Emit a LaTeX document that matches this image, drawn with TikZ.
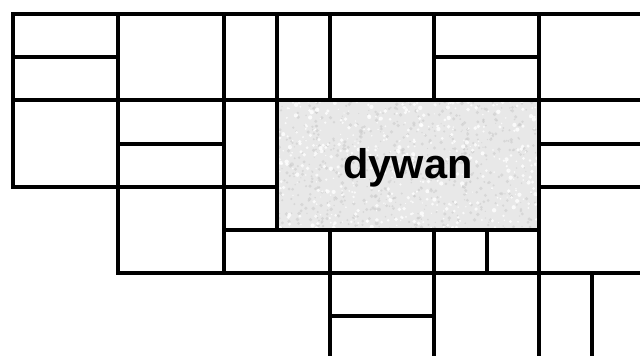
\documentclass[tikz,border=0pt]{standalone}
\usepackage{fontspec}
\setmainfont{Liberation Sans}
\begin{document}
\begin{tikzpicture}[x=1pt,y=-1pt,
  wall/.style={line width=3.8pt,line cap=rect,black},
  carpet/.style={fill=black!9}]
\useasboundingbox (0,0) rectangle (640,356);
\fill[white] (0,0) rectangle (640,356);
% carpet
\fill[carpet] (277,100) rectangle (539,230);
\pgfmathsetseed{7}
\begin{scope}
\clip (277,100) rectangle (539,230);
\foreach \i in {1,...,700}{
  \pgfmathsetmacro{\px}{277+262*rnd}
  \pgfmathsetmacro{\py}{100+130*rnd}
  \pgfmathsetmacro{\pr}{0.6+1.4*rnd}
  \fill[black!20,opacity=0.6] (\px,\py) circle[radius=\pr pt];
}
\foreach \i in {1,...,500}{
  \pgfmathsetmacro{\px}{277+262*rnd}
  \pgfmathsetmacro{\py}{100+130*rnd}
  \pgfmathsetmacro{\pr}{0.6+1.6*rnd}
  \fill[white,opacity=0.8] (\px,\py) circle[radius=\pr pt];
}
\end{scope}
\node[anchor=base,inner sep=0pt,font=\fontsize{41.5}{48}\selectfont\bfseries] (dywan) at (408,178) {dywan};
% horizontal walls
\draw[wall] (13,14) -- (640,14);
\draw[wall] (13,57) -- (118,57);
\draw[wall] (434,57) -- (539,57);
\draw[wall] (13,100) -- (640,100);
\draw[wall] (118,144) -- (224,144);
\draw[wall] (539,144) -- (640,144);
\draw[wall] (13,187) -- (277,187);
\draw[wall] (539,187) -- (640,187);
\draw[wall] (224,230) -- (539,230);
\draw[wall] (118,273) -- (640,273);
\draw[wall] (330,316) -- (434,316);
% vertical walls
\draw[wall] (13,14) -- (13,187);
\draw[wall] (118,14) -- (118,273);
\draw[wall] (224,14) -- (224,273);
\draw[wall] (277,14) -- (277,230);
\draw[wall] (330,14) -- (330,100);
\draw[wall] (330,230) -- (330,356);
\draw[wall] (434,14) -- (434,100);
\draw[wall] (434,230) -- (434,356);
\draw[wall] (487,230) -- (487,273);
\draw[wall] (539,14) -- (539,356);
\draw[wall] (592,273) -- (592,356);
\end{tikzpicture}
\end{document}
